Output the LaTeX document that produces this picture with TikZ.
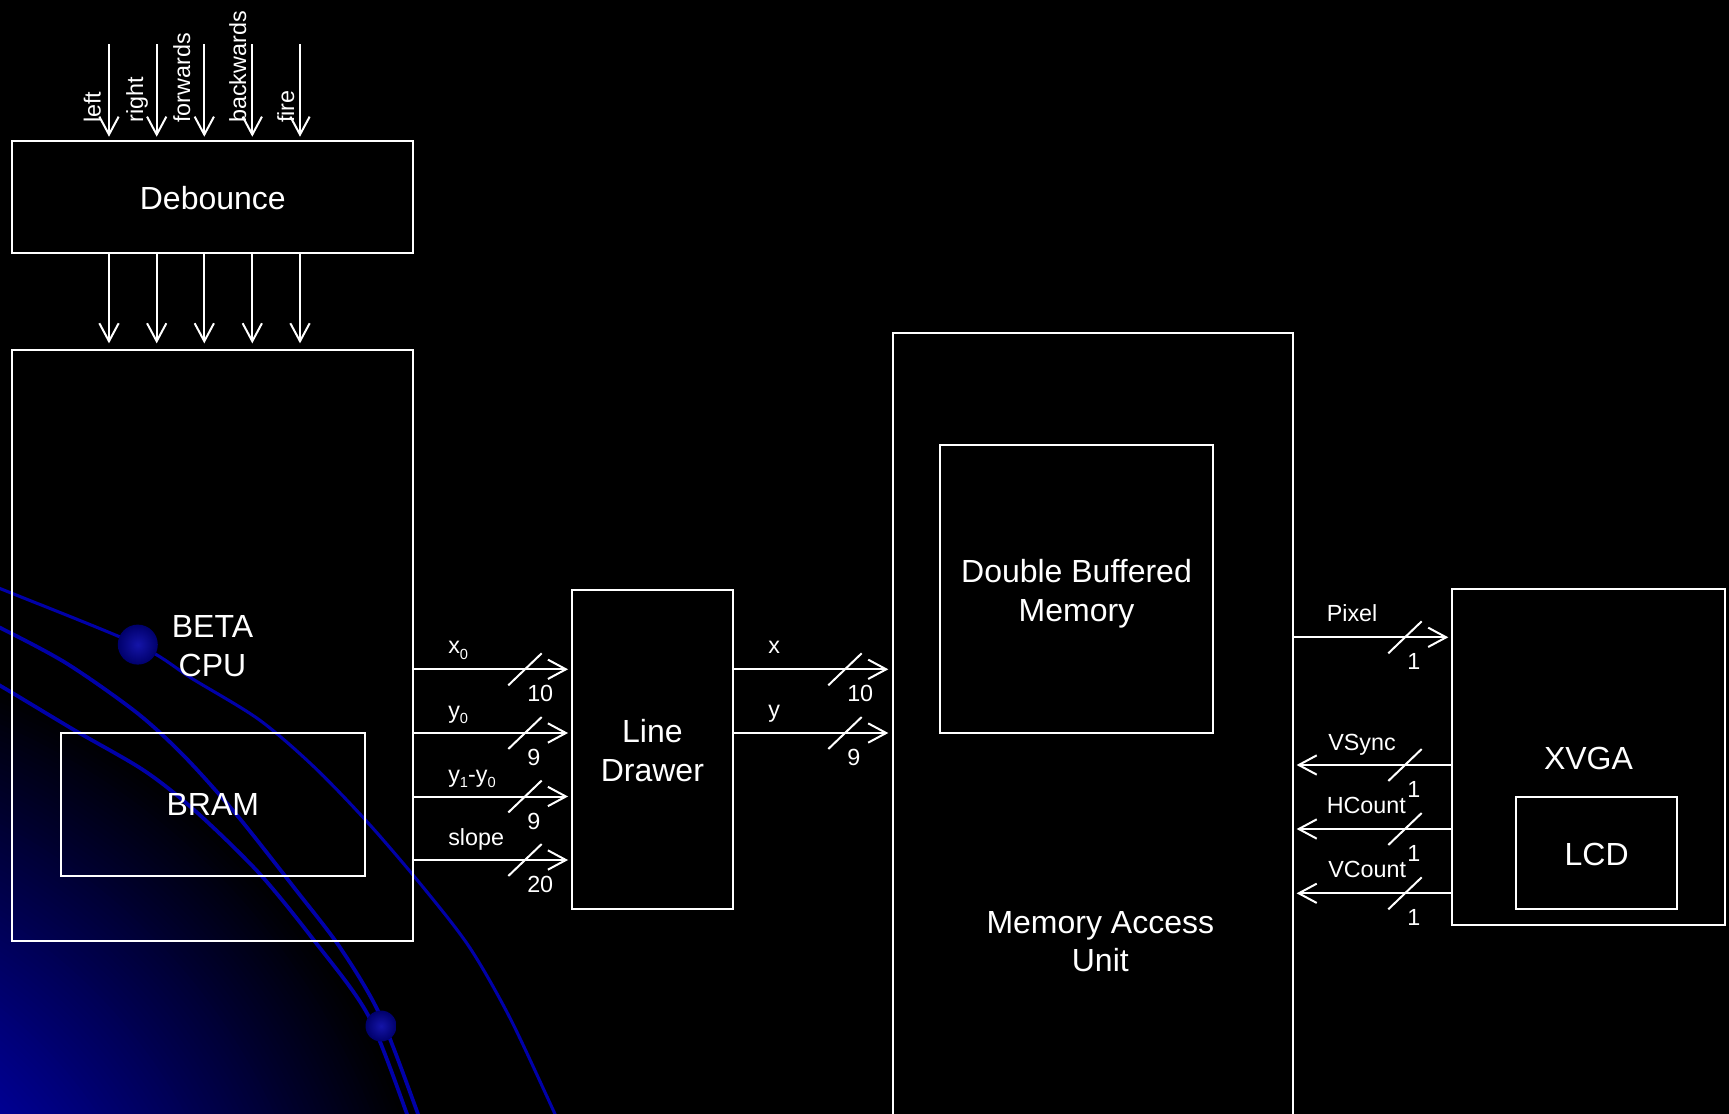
\documentclass[tikz,border=0pt]{standalone}
\usepackage{fontspec}
\setmainfont{Liberation Sans}
\usetikzlibrary{arrows.meta,fit}
\definecolor{curveblue}{rgb}{0,0,0.66}
\definecolor{ballin}{rgb}{0.08,0.08,0.66}
\definecolor{ballout}{rgb}{0,0,0.42}
\tikzset{
  wl/.style={draw=white, line width=1.5pt},
  box/.style={wl, rectangle, inner sep=0pt, outer sep=0pt},
  big/.style={text=white, font=\fontsize{24}{29.1}\selectfont, inner sep=0pt, align=center},
  small/.style={text=white, font=\fontsize{17.5}{21}\selectfont, inner sep=0pt},
  arr/.style={wl, -{Straight Barb[length=13.5pt,width=14.5pt]}},
  slashmark/.style={wl},
  bgcurve/.style={draw=curveblue, line width=2.8pt},
}
\newcommand\mysub[1]{\raisebox{-0.25em}{\fontsize{11}{12}\selectfont #1}}
\newcommand\busmark[4]{%
  \draw[slashmark] (#1-16.7,#2+16) -- (#1+16.7,#2-16);
  \node[small, anchor=base west] (#4) at (#1+2,#2+32.5) {#3};
}
\begin{document}
\begin{tikzpicture}[x=0.75pt,y=-0.75pt]
\useasboundingbox (0,0) rectangle (1729,1114);
\clip (0,0) rectangle (1729,1114);
\fill[black] (0,0) rectangle (1729,1114);
% background glow
\foreach \i in {0,...,71} {
  \pgfmathsetmacro\rr{732-\i*5}
  \pgfmathsetmacro\ii{min(0.6,0.00162*(732-\rr))}
  \definecolor{glowc}{rgb}{0,0,\ii}
  \fill[glowc] (-279,1363) circle[radius=\rr];
}
% background curves
\draw[bgcurve, line width=2.3pt] plot[smooth] coordinates {(-20,580) (0,588.5) (137.6,644.7) (192.4,678.8) (259,719.6) (314.5,767.3) (370,825) (425.4,890) (470,948) (510.5,1019) (555,1114) (560,1125)};
\draw[bgcurve] plot[smooth] coordinates {(-20,620) (0,627.7) (66.6,663.4) (136.9,712.8) (185,757) (236.8,815) (296,890) (340.4,948) (380,1015) (418,1114) (421,1125)};
\draw[bgcurve] plot[smooth] coordinates {(-20,676) (0,685.6) (74,729.9) (144.3,770.7) (196,811.6) (259,873) (314.5,941) (368,1015) (407,1114) (410,1125)};
\shade[inner color=ballin, outer color=ballout] (137.8,644.6) circle[radius=20];
\shade[inner color=ballin, outer color=ballout] (381,1026) circle[radius=15.5];

% boxes
\node[box, fit={(12.3,141) (413.3,253.3)}] (deb) {};
\node[big, anchor=base] (debt) at (212.8,209.5) {Debounce};
\node[box, fit={(12.3,349.5) (412.8,940.6)}] (cpu) {};
\node[big] (cput) at (212.5,646.2) {BETA\\CPU};
\node[box, fit={(60.5,732.5) (365,876)}] (bram) {};
\node[big, anchor=base] (bramt) at (212.8,815.6) {BRAM};
\node[box, fit={(572.3,590) (732.5,909)}] (ld) {};
\node[big] (ldt) at (652.4,750.5) {Line\\Drawer};
\node[box, fit={(892.7,333.3) (1293.3,1200)}] (mau) {};
\node[big] (maut) at (1100.3,941.7) {Memory Access\\Unit};
\node[box, fit={(940.3,445.3) (1212.7,733)}] (dbm) {};
\node[big] (dbmt) at (1076.5,593.7) {Double Buffered\\Memory};
\node[box, fit={(1452.3,589.3) (1725,925)}] (xvga) {};
\node[big, anchor=base] (xvgat) at (1588.5,769) {XVGA};
\node[box, fit={(1516,797.3) (1677.3,909.3)}] (lcd) {};
\node[big, anchor=base] (lcdt) at (1596.7,865) {LCD};

% button inputs
\foreach \x/\n in {109/a,156.7/b,204.3/c,252.3/d,300/e} {
  \coordinate (in\n) at (\x,44.3);
  \draw[arr, shorten >=3.2pt] (in\n) -- (in\n |- deb.north);
  \draw[arr, shorten >=4.6pt] (in\n |- deb.south) -- (in\n |- cpu.north);
}
\node[small, rotate=90, anchor=base west] (lleft) at (100.7,123) {left};
\node[small, rotate=90, anchor=base west] (lright) at (143,123) {right};
\node[small, rotate=90, anchor=base west] (lfwd) at (190,123) {forwards};
\node[small, rotate=90, anchor=base west] (lbwd) at (246,123) {backwards};
\node[small, rotate=90, anchor=base west] (lfire) at (294,123) {fire};

% CPU -> Line Drawer buses
\coordinate (rx0) at (0,669.3);
\coordinate (ry0) at (0,733);
\coordinate (rdy) at (0,796.5);
\coordinate (rsl) at (0,860);
\draw[arr, shorten >=3.2pt] (cpu.east |- rx0) -- (ld.west |- rx0);
\draw[arr, shorten >=3.2pt] (cpu.east |- ry0) -- (ld.west |- ry0);
\draw[arr, shorten >=3.2pt] (cpu.east |- rdy) -- (ld.west |- rdy);
\draw[arr, shorten >=3.2pt] (cpu.east |- rsl) -- (ld.west |- rsl);
\node[small, anchor=base west] (lx0) at (448,653.3) {x\mysub{0}};
\node[small, anchor=base west] (ly0) at (448,718) {y\mysub{0}};
\node[small, anchor=base west] (ldy) at (448,782) {y\mysub{1}-y\mysub{0}};
\node[small, anchor=base west] (lsl) at (448,845) {slope};
\busmark{525}{669.3}{10}{w1}
\busmark{525}{733}{9}{w2}
\busmark{525}{796.5}{9}{w3}
\busmark{525}{860}{20}{w4}

% Line Drawer -> MAU
\draw[arr, shorten >=3.3pt] (ld.east |- rx0) -- (mau.west |- rx0);
\draw[arr, shorten >=3.3pt] (ld.east |- ry0) -- (mau.west |- ry0);
\node[small, anchor=base west] (lx) at (768,653.3) {x};
\node[small, anchor=base west] (ly) at (768,717.5) {y};
\busmark{845}{669.3}{10}{w5}
\busmark{845}{733}{9}{w6}

% MAU <-> XVGA
\coordinate (rpx) at (0,637.3);
\coordinate (rvs) at (0,765);
\coordinate (rhc) at (0,829);
\coordinate (rvc) at (0,893.3);
\draw[arr, shorten >=3pt] (mau.east |- rpx) -- (xvga.west |- rpx);
\draw[arr, shorten >=2.5pt] (xvga.west |- rvs) -- (mau.east |- rvs);
\draw[arr, shorten >=2.5pt] (xvga.west |- rhc) -- (mau.east |- rhc);
\draw[arr, shorten >=2.5pt] (xvga.west |- rvc) -- (mau.east |- rvc);
\node[small, anchor=base west] (lpx) at (1326.5,621.7) {Pixel};
\node[small, anchor=base west] (lvs) at (1328,750) {VSync};
\node[small, anchor=base west] (lhc) at (1326.5,813.3) {HCount};
\node[small, anchor=base west] (lvc) at (1328,877.7) {VCount};
\busmark{1405}{637.3}{1}{w7}
\busmark{1405}{765}{1}{w8}
\busmark{1405}{829}{1}{w9}
\busmark{1405}{893.3}{1}{w10}
\end{tikzpicture}
\end{document}
